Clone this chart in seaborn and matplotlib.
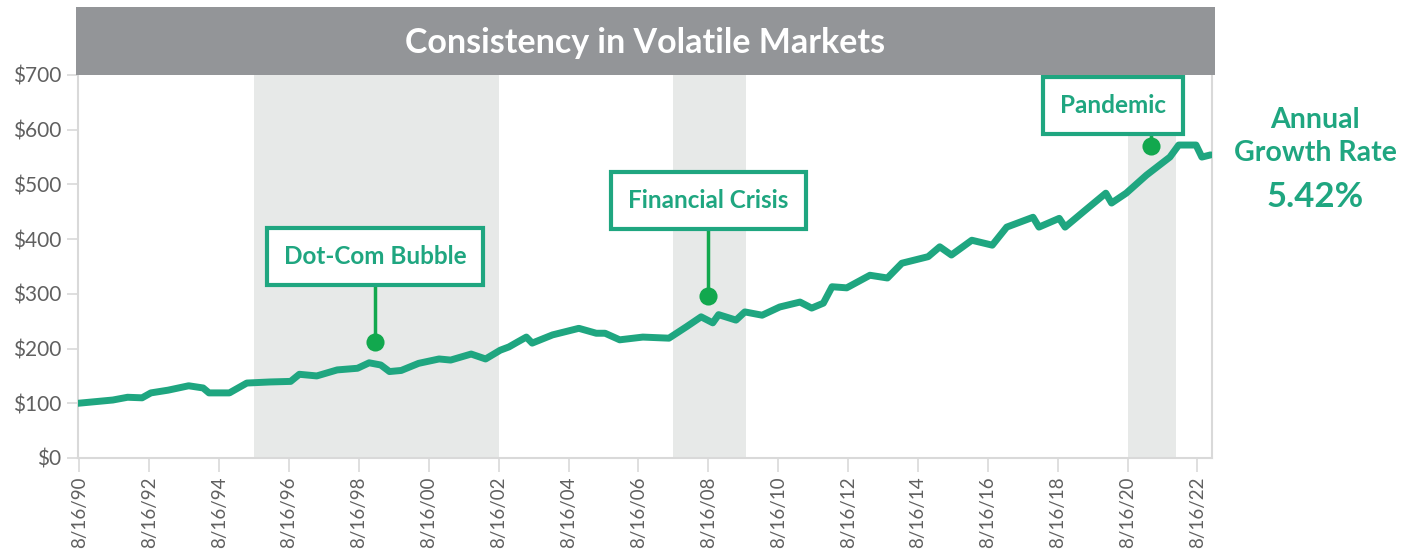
import pandas as pd
import matplotlib
matplotlib.use('Agg')
import matplotlib.pyplot as plt
from matplotlib.patches import Rectangle
import seaborn as sns

# Datos (valor de $100 invertidos en 8/1990)
fechas = ['1990-08', '1991-08', '1992-01', '1992-06', '1992-09', '1993-03', '1993-10',
          '1994-03', '1994-05', '1994-12', '1995-06', '1996-02', '1996-09', '1996-12',
          '1997-06', '1998-01', '1998-08', '1998-12', '1999-04', '1999-07', '1999-11',
          '2000-05', '2000-12', '2001-04', '2001-11', '2002-04', '2002-09', '2002-12',
          '2003-03', '2003-06', '2003-08', '2004-03', '2004-12', '2005-06', '2005-09',
          '2006-02', '2006-10', '2007-07', '2008-01', '2008-06', '2008-10', '2008-12',
          '2009-06', '2009-09', '2010-03', '2010-09', '2011-04', '2011-08', '2011-12',
          '2012-03', '2012-08', '2013-04', '2013-10', '2014-03', '2014-12', '2015-04',
          '2015-08', '2016-03', '2016-10', '2017-03', '2017-12', '2018-02', '2018-09',
          '2018-11', '2019-06', '2020-01', '2020-03', '2020-08', '2021-03', '2021-11',
          '2022-02', '2022-08', '2022-10', '2023-01']
valores = [100, 106, 111, 110, 119, 124, 132,
           128, 119, 119, 137, 139, 140, 153,
           150, 161, 164, 174, 170, 158, 160,
           173, 181, 179, 190, 181, 197, 203,
           212, 221, 210, 225, 237, 228, 228,
           216, 221, 219, 240, 258, 247, 262,
           252, 267, 261, 276, 285, 274, 283,
           313, 311, 334, 329, 356, 368, 386,
           371, 398, 389, 422, 440, 422, 438,
           422, 453, 484, 466, 484, 517, 550,
           572, 572, 550, 554]

# Periodos de crisis sombreados
crisis_inicio = ['1995-08-16', '2007-08-16', '2020-08-16']
crisis_fin = ['2002-08-16', '2009-09-15', '2022-01-01']

# Anotaciones: texto, fecha/valor del punto, fecha/valor del recuadro
notas = ['Dot-Com Bubble', 'Financial Crisis', 'Pandemic']
notas_punto_fecha = ['1999-02-01', '2008-08-16', '2021-04-15']
notas_punto_valor = [212, 296, 570]
notas_caja_fecha = ['1999-02-01', '2008-08-16', '2020-03-15']
notas_caja_valor = [369, 470, 644]
notas_caja_base = [322, 422, 598]

y_ticks = [0, 100, 200, 300, 400, 500, 600, 700]
y_labels = ['$0', '$100', '$200', '$300', '$400', '$500', '$600', '$700']
x_ticks = ['1990-08-16', '1992-08-16', '1994-08-16', '1996-08-16', '1998-08-16',
           '2000-08-16', '2002-08-16', '2004-08-16', '2006-08-16', '2008-08-16',
           '2010-08-16', '2012-08-16', '2014-08-16', '2016-08-16', '2018-08-16',
           '2020-08-16', '2022-08-16']
x_labels = ['8/16/90', '8/16/92', '8/16/94', '8/16/96', '8/16/98', '8/16/00', '8/16/02',
            '8/16/04', '8/16/06', '8/16/08', '8/16/10', '8/16/12', '8/16/14', '8/16/16',
            '8/16/18', '8/16/20', '8/16/22']

verde = '#1fa680'
verde_punto = '#12a84e'
gris_sombra = '#e7e9e8'
gris_eje = '#d9d9d9'
gris_texto = '#606060'

sns.set_style('white')
plt.rcParams['font.family'] = ['Lato', 'DejaVu Sans']

df = pd.DataFrame({'fecha': pd.to_datetime(fechas, format='ISO8601'), 'valor': valores})

fig = plt.figure(figsize=(14.08, 5.56), dpi=100)
ax = fig.add_axes([78 / 1408, 1 - 458 / 556, (1212 - 78) / 1408, 383 / 556])

for ini, fin in zip(crisis_inicio, crisis_fin):
    ax.axvspan(pd.Timestamp(ini), pd.Timestamp(fin), color=gris_sombra, lw=0, zorder=0)

sns.lineplot(data=df, x='fecha', y='valor', ax=ax, color=verde, linewidth=5,
             solid_capstyle='round', solid_joinstyle='round', zorder=3)

# Recuadros de anotación
for txt, pf, pv, cf, cv, cb in zip(notas, notas_punto_fecha, notas_punto_valor,
                                   notas_caja_fecha, notas_caja_valor, notas_caja_base):
    ax.plot([pd.Timestamp(pf), pd.Timestamp(pf)], [pv, cb], color=verde_punto, lw=2.5, zorder=4)
    ax.scatter([pd.Timestamp(pf)], [pv], s=170, color=verde_punto, zorder=5, linewidths=0)
    ax.text(pd.Timestamp(cf), cv, txt, ha='center', va='center', fontsize=17.5,
            fontweight='bold', color=verde, zorder=6,
            bbox=dict(boxstyle='square,pad=0.7', fc='white', ec=verde, lw=3))

ax.set_xlim(pd.Timestamp('1990-08-01'), pd.Timestamp('2023-01-15'))
ax.set_ylim(0, 700)
ax.set_yticks(y_ticks)
ax.set_yticklabels(y_labels, fontsize=15, color=gris_texto)
ax.set_xticks([pd.Timestamp(t) for t in x_ticks])
ax.set_xticklabels(x_labels, rotation=90, fontsize=13.5, color=gris_texto)
ax.tick_params(axis='y', length=8, width=1.2, color=gris_eje, pad=4, left=True)
ax.tick_params(axis='x', length=10, width=1.2, color=gris_eje, pad=3, bottom=True)
ax.set_xlabel('')
ax.set_ylabel('')
for lado in ['left', 'bottom', 'right']:
    ax.spines[lado].set_color(gris_eje)
    ax.spines[lado].set_linewidth(1.5)
ax.spines['top'].set_visible(False)

# Banda del título
ax.add_patch(Rectangle((-0.0015, 1.0), 1.0045, 68 / 383, transform=ax.transAxes,
                       facecolor='#939598', edgecolor='none', clip_on=False, zorder=10))
ax.text(0.5, 1 + 32 / 383, 'Consistency in Volatile Markets', transform=ax.transAxes,
        ha='center', va='center', fontsize=24.5, fontweight='bold', color='white', zorder=11)

# Texto de la tasa de crecimiento
ax.text(1.091, 0.8825, 'Annual', transform=ax.transAxes, ha='center', va='center',
        fontsize=20.5, fontweight='bold', color=verde)
ax.text(1.091, 0.796, 'Growth Rate', transform=ax.transAxes, ha='center', va='center',
        fontsize=20.5, fontweight='bold', color=verde)
ax.text(1.091, 0.681, '5.42%', transform=ax.transAxes, ha='center', va='center',
        fontsize=25, fontweight='bold', color=verde)

fig.savefig('out.png', dpi=100)
